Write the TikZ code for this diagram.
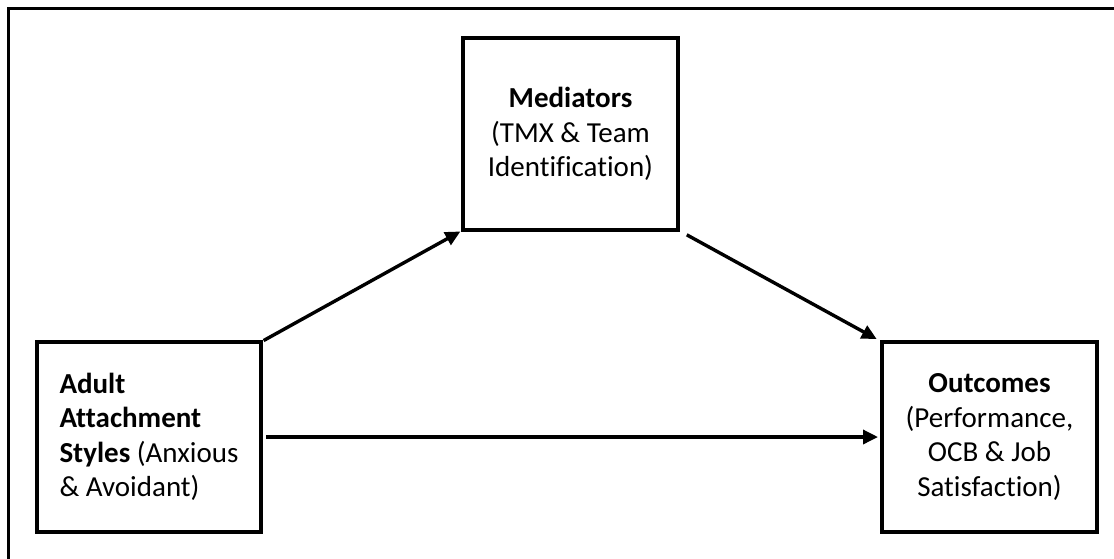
\documentclass[tikz,border=0pt]{standalone}
\usepackage{fontspec}
\setmainfont[Ligatures=NoCommon]{Carlito}
\usetikzlibrary{arrows.meta}
\begin{document}
\begin{tikzpicture}[x=1pt, y=-1pt,
  box/.style={draw, line width=3.8pt, outer sep=0pt, inner sep=0pt,
    font=\fontsize{29}{34.5}\selectfont},
  arr/.style={line width=3.4pt, -{Triangle[length=15pt,width=14pt]}}]
  \useasboundingbox (0,0) rectangle (1114,558);
  \clip (0,0) rectangle (1114,558);
  % page frame (only its top and left sides fall inside the page)
  \draw[line width=3.8pt] (8.5,8.5) rectangle (1140,590);

  \node[box, minimum width=224pt, minimum height=190pt, align=left]
    (adult) at (149,437)
    {\textbf{Adult}\\\textbf{Attachment}\\\textbf{Styles} (Anxious\\\& Avoidant)};
  \node[box, minimum width=215pt, minimum height=192pt, align=center]
    (med) at (570.5,134)
    {\textbf{Mediators}\\(TMX \& Team\\Identification)};
  \node[box, minimum width=215pt, minimum height=190pt, align=center]
    (out) at (989.5,437)
    {\textbf{Outcomes}\\(Performance,\\OCB \& Job\\Satisfaction)};

  \draw[arr, shorten <=3pt, shorten >=3pt] (adult.north east) -- (med.south west);
  \draw[arr, shorten <=10pt, shorten >=6pt] (med.south east) -- (out.north west);
  \draw[arr, shorten <=5pt, shorten >=4pt] (adult.east) -- (out.west);
\end{tikzpicture}
\end{document}
